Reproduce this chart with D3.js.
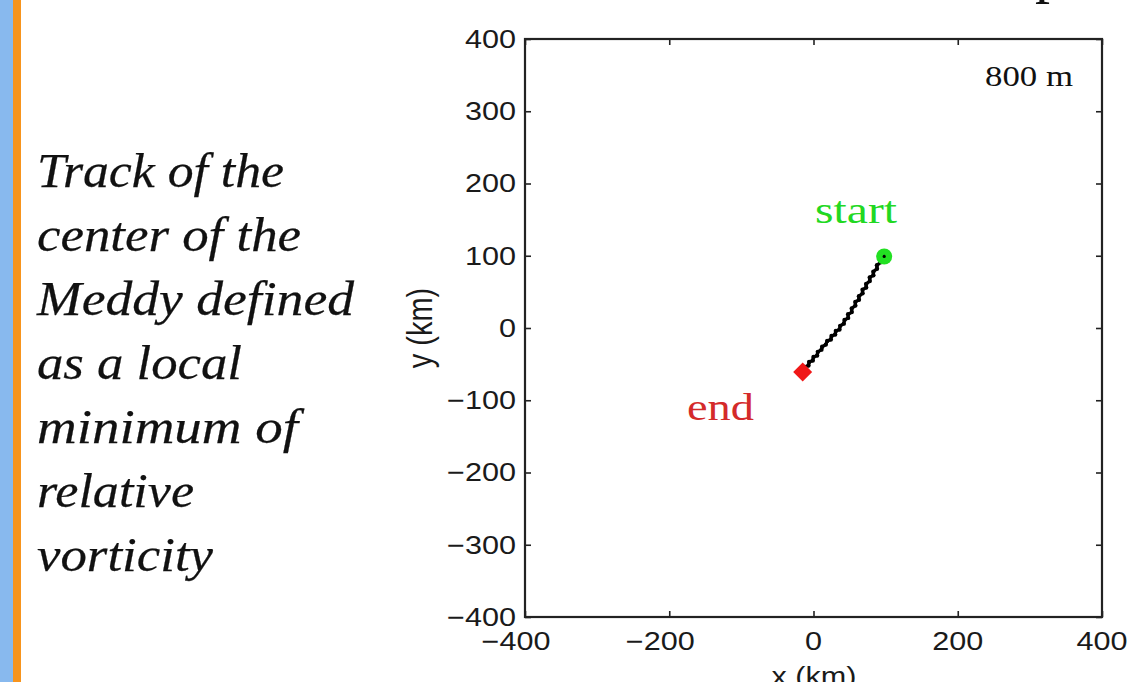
<!DOCTYPE html>
<html><head><meta charset="utf-8">
<script src="https://cdn.jsdelivr.net/npm/d3@7"></script>
<style>body{margin:0;background:#fff;overflow:hidden}</style>
</head>
<body><svg id="c" width="1134" height="682"></svg>
<script>
const xTicks = [-400, -200, 0, 200, 400];
const yTicks = [-400, -300, -200, -100, 0, 100, 200, 300, 400];
const trackX = [98, 93, 93, 88, 88, 83, 83, 78, 78, 73, 73, 68, 68, 63, 63, 58, 58, 53, 53, 48, 48, 43, 42, 37, 36, 31, 30, 25, 24, 19, 17, 12, 11, 6, 5, 0, -1, -6, -7, -12, -13, -15];
const trackY = [99, 95, 91, 87, 82, 78, 73, 70, 65, 61, 56, 53, 48, 44, 39, 36, 31, 27, 22, 19, 14, 11, 6, 3, -2, -4, -9, -11, -16, -18, -23, -26, -30, -33, -38, -40, -45, -47, -52, -54, -58, -61];
const startPt = [98, 99];
const endPt = [-15, -61];
const captionLines = ["Track of the", "center of the", "Meddy defined", "as a local", "minimum of", "relative", "vorticity"];
const depthLabel = "800 m";
const xLabel = "x (km)";
const yLabel = "y (km)";

const SX = 1.2; // horizontal stretch of the original picture
const svg = d3.select("#c");

svg.append("rect").attr("x", 0).attr("y", 0).attr("width", 13).attr("height", 682).attr("fill", "#88b9ee");
svg.append("rect").attr("x", 13).attr("y", 0).attr("width", 8).attr("height", 682).attr("fill", "#f7941d");

const capWidths = [247, 264, 317, 205, 261, 157, 176];
const capBase = [187, 251, 315, 379, 443, 507, 571];
captionLines.forEach((t, i) => {
  svg.append("text").attr("x", 37).attr("y", capBase[i])
    .attr("font-family", "'Liberation Serif', 'Times New Roman', serif")
    .attr("font-style", "italic").attr("font-size", 48).attr("fill", "#111")
    .attr("stroke", "#111").attr("stroke-width", 0.25)
    .attr("textLength", capWidths[i]).attr("lengthAdjust", "spacingAndGlyphs")
    .text(t);
});

svg.append("text").attr("x", 1035).attr("y", -9)
  .attr("font-family", "'Liberation Serif', serif").attr("font-size", 60).attr("fill", "#111")
  .text("p");

const L = 525, R = 1102, T = 39, B = 617;
const x = d3.scaleLinear().domain([-400, 400]).range([L, R]);
const y = d3.scaleLinear().domain([-400, 400]).range([B, T]);

const axCol = "#222";
const fs = 25.5;

function styleAxis(g) {
  g.select(".domain").remove();
  g.selectAll(".tick line").attr("stroke", axCol).attr("stroke-width", 1.6);
  g.selectAll(".tick text").remove();
}
svg.append("g").attr("transform", `translate(${L},0)`).call(d3.axisLeft(y).tickValues(yTicks).tickSize(-6)).call(styleAxis);
svg.append("g").attr("transform", `translate(${R},0)`).call(d3.axisRight(y).tickValues(yTicks).tickSize(-6)).call(styleAxis);
svg.append("g").attr("transform", `translate(0,${B})`).call(d3.axisBottom(x).tickValues(xTicks).tickSize(-6)).call(styleAxis);
svg.append("g").attr("transform", `translate(0,${T})`).call(d3.axisTop(x).tickValues(xTicks).tickSize(-6)).call(styleAxis);

svg.append("rect").attr("x", L).attr("y", T).attr("width", R - L).attr("height", B - T)
  .attr("fill", "none").attr("stroke", axCol).attr("stroke-width", 2.2);

const fmt = d3.format("d");
const sans = "'Liberation Sans', Arial, sans-serif";
yTicks.forEach(v => {
  svg.append("text").attr("transform", `translate(516,${y(v)}) scale(${SX},1)`)
    .attr("text-anchor", "end").attr("dy", "0.35em")
    .attr("font-family", sans).attr("font-size", fs).attr("fill", "#1a1a1a")
    .text(fmt(v));
});
xTicks.forEach(v => {
  const digits = String(Math.abs(v)).length;
  const half = digits * 0.556 * fs * SX / 2;
  svg.append("text").attr("transform", `translate(${x(v) + half},650) scale(${SX},1)`)
    .attr("text-anchor", "end")
    .attr("font-family", sans).attr("font-size", fs).attr("fill", "#1a1a1a")
    .text(fmt(v));
});
svg.append("text").attr("transform", `translate(814,685) scale(${SX},1)`)
  .attr("text-anchor", "middle")
  .attr("font-family", sans).attr("font-size", fs).attr("fill", "#1a1a1a")
  .text(xLabel);
svg.append("text").attr("transform", `translate(432,328) scale(${SX},1) rotate(-90)`)
  .attr("text-anchor", "middle")
  .attr("font-family", sans).attr("font-size", 29).attr("fill", "#1a1a1a")
  .text(yLabel);

svg.append("text").attr("x", 985).attr("y", 86)
  .attr("font-family", "'Liberation Serif', serif").attr("font-size", 30).attr("fill", "#111")
  .attr("textLength", 88).attr("lengthAdjust", "spacingAndGlyphs")
  .text(depthLabel);

const pts = trackX.map((v, i) => [v, trackY[i]]);
svg.append("path").datum(pts)
  .attr("d", d3.line().x(d => x(d[0])).y(d => y(d[1])))
  .attr("fill", "none").attr("stroke", "#000").attr("stroke-width", 3.2).attr("stroke-linejoin", "round");
svg.selectAll("circle.pt").data(pts).enter().append("circle").attr("class", "pt")
  .attr("cx", d => x(d[0])).attr("cy", d => y(d[1])).attr("r", 2.2).attr("fill", "#000");

svg.append("circle").attr("cx", x(startPt[0])).attr("cy", y(startPt[1])).attr("r", 8).attr("fill", "#22e022");
svg.append("circle").attr("cx", x(startPt[0])).attr("cy", y(startPt[1])).attr("r", 1.6).attr("fill", "#000");
svg.append("rect").attr("x", -6.7).attr("y", -6.7).attr("width", 13.4).attr("height", 13.4)
  .attr("transform", `translate(${x(endPt[0])},${y(endPt[1])}) rotate(45)`).attr("fill", "#f01818");

svg.append("text").attr("x", 815).attr("y", 223)
  .attr("font-family", "'Liberation Serif', serif").attr("font-size", 38).attr("fill", "#22d822")
  .attr("textLength", 82).attr("lengthAdjust", "spacingAndGlyphs").text("start");
svg.append("text").attr("x", 687).attr("y", 420)
  .attr("font-family", "'Liberation Serif', serif").attr("font-size", 38).attr("fill", "#d42a2a")
  .attr("textLength", 67).attr("lengthAdjust", "spacingAndGlyphs").text("end");
</script>
</body></html>
